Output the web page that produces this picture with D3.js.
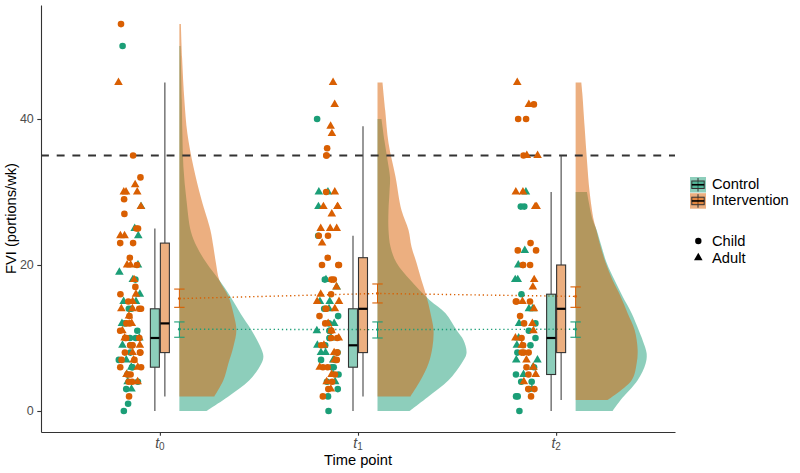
<!DOCTYPE html>
<html><head><meta charset="utf-8">
<script src="https://cdn.jsdelivr.net/npm/d3@7"></script>
<style>body{margin:0;background:#fff}svg{display:block;font-family:"Liberation Sans",Arial,Helvetica,sans-serif}</style>
</head><body><svg id="c" width="800" height="473"></svg>
<script>
// ---------------- data ----------------
const timePoints = ["t0", "t1", "t2"];
const timeSubs = ["0", "1", "2"];
const groups = ["Control", "Intervention"];
const ageGroups = ["Child", "Adult"];
const yTicks = [0, 20, 40];
const threshold = 35;

// raw FVI observations (portions/wk) per time point, group and age
const t0ControlChild = [50, 18, 14, 14, 12, 11, 10, 10, 9, 8, 7, 6, 6, 5, 4, 3, 1, 0];
const t0ControlAdult = [28, 25, 24, 20, 19, 18, 16, 15, 15, 12, 10, 9, 7, 6, 5, 4, 3];
const t0InterventionChild = [53, 35, 32, 29, 27, 25, 25, 23, 23, 21, 20, 17, 16, 15, 14, 14, 13, 12, 12, 11, 10, 10, 10, 9, 9, 9, 8, 8, 8, 7, 7, 6, 6, 5, 5, 4, 4, 2];
const t0InterventionAdult = [45, 31, 30, 30, 30, 28, 24, 24, 20, 20, 18, 16, 15, 14, 14, 13, 12, 11, 10, 9, 8, 7, 6, 5, 4];
const t1ControlChild = [40, 24, 18, 14, 13, 12, 11, 11, 10, 10, 9, 8, 7, 7, 6, 6, 5, 4, 3, 2, 0];
const t1ControlAdult = [30, 30, 28, 18, 17, 15, 15, 14, 12, 11, 10, 9, 8, 8, 7, 5, 4];
const t1InterventionChild = [36, 35, 35, 30, 24, 24, 21, 20, 20, 20, 18, 18, 16, 14, 14, 13, 12, 11, 10, 10, 9, 8, 8, 7, 6, 6, 5, 4, 3, 2];
const t1InterventionAdult = [45, 42, 39, 38, 30, 28, 28, 28, 27, 25, 25, 25, 23, 17, 16, 15, 15, 14, 12, 11, 10, 9, 8, 7, 6, 5, 4, 3];
const t2ControlChild = [28, 28, 16, 12, 11, 10, 9, 8, 6, 5, 4, 4, 3, 2, 2, 0];
const t2ControlAdult = [30, 22, 20, 18, 18, 14, 14, 12, 10, 9, 7, 7, 6, 5, 3];
const t2InterventionChild = [42, 40, 40, 35, 23, 22, 22, 20, 20, 20, 15, 15, 15, 13, 12, 10, 9, 8, 8, 8, 6, 5, 3, 3, 2];
const t2InterventionAdult = [45, 42, 35, 35, 30, 30, 28, 28, 18, 17, 15, 14, 12, 11, 10, 9, 7, 6, 5, 4];

// boxplot statistics per time point
const controlQ1 = [6, 6, 5];
const controlMedian = [10, 9, 10];
const controlQ3 = [14, 14, 16];
const controlWhiskerLow = [0, 0, 0];
const controlWhiskerHigh = [25, 24, 30];
const interventionQ1 = [8, 8, 8];
const interventionMedian = [12, 14, 14];
const interventionQ3 = [23, 21, 20];
const interventionWhiskerLow = [2, 2, 1.5];
const interventionWhiskerHigh = [45, 39, 35];

// mean and 95% CI per time point
const controlMean = [11.2, 11.15, 11.2];
const controlCILow = [10.1, 10.0, 10.1];
const controlCIHigh = [12.2, 12.2, 12.2];
const interventionMean = [15.4, 16.1, 15.7];
const interventionCILow = [14.2, 14.8, 14.2];
const interventionCIHigh = [16.7, 17.4, 17.0];

// density profiles [value, relative density]
const t0ControlDensity = [[0,0.27],[2,0.49],[4.2,0.70],[6.5,0.82],[7.5,0.84],[8.8,0.81],[11.1,0.72],[13.4,0.61],[15.7,0.51],[17.9,0.40],[20.3,0.27],[22.5,0.175],[24.6,0.115],[29,0.07],[33.5,0.04],[38,0.03],[42.6,0.024],[50,0.012]];
const t0InterventionDensity = [[2,0.35],[4.2,0.44],[6.5,0.49],[8.8,0.54],[11.1,0.57],[13.4,0.54],[15.7,0.49],[17.9,0.40],[20.3,0.365],[22.5,0.34],[24.8,0.31],[29,0.22],[33.5,0.14],[38,0.08],[42.6,0.05],[48.4,0.027],[53,0.015]];
const t1ControlDensity = [[0,0.32],[2,0.51],[4.2,0.71],[6.5,0.84],[7.9,0.89],[9.7,0.86],[11.1,0.79],[13.4,0.68],[15.2,0.52],[17.9,0.33],[20.3,0.19],[22.5,0.13],[24.8,0.11],[27.5,0.11],[30,0.12],[32,0.125],[34.4,0.10],[37,0.07],[40,0.04]];
const t1InterventionDensity = [[2,0.33],[4.2,0.43],[6.5,0.51],[8.8,0.55],[11.1,0.56],[13.4,0.53],[15.7,0.49],[17.9,0.44],[20.3,0.39],[22.5,0.34],[24.8,0.31],[27.5,0.24],[32.1,0.18],[36.7,0.11],[41.2,0.077],[45,0.05]];
const t2ControlDensity = [[0,0.37],[1.5,0.45],[4.2,0.62],[6.5,0.70],[7.9,0.71],[9.7,0.67],[11.1,0.63],[13.4,0.56],[15.7,0.47],[17.9,0.39],[20.3,0.31],[22.5,0.26],[24.8,0.21],[26.2,0.17],[30,0.113]];
const t2InterventionDensity = [[1.5,0.32],[4.2,0.56],[6.5,0.61],[8.4,0.62],[11.1,0.59],[13.4,0.52],[15.7,0.45],[17.9,0.37],[20.3,0.30],[22.5,0.25],[24.8,0.207],[26.2,0.18],[30,0.14],[34.4,0.113],[38.9,0.09],[43.5,0.067],[45,0.057]];

// ---------------- assemble ----------------
const raw = [
  [t0ControlChild, t0ControlAdult, t0InterventionChild, t0InterventionAdult],
  [t1ControlChild, t1ControlAdult, t1InterventionChild, t1InterventionAdult],
  [t2ControlChild, t2ControlAdult, t2InterventionChild, t2InterventionAdult]
];
const densities = [
  [t0ControlDensity, t0InterventionDensity],
  [t1ControlDensity, t1InterventionDensity],
  [t2ControlDensity, t2InterventionDensity]
];
const box = [
  {q1: controlQ1, med: controlMedian, q3: controlQ3, lo: controlWhiskerLow, hi: controlWhiskerHigh},
  {q1: interventionQ1, med: interventionMedian, q3: interventionQ3, lo: interventionWhiskerLow, hi: interventionWhiskerHigh}
];
const means = [
  {m: controlMean, lo: controlCILow, hi: controlCIHigh},
  {m: interventionMean, lo: interventionCILow, hi: interventionCIHigh}
];

// ---------------- styles / layout ----------------
const colors = {Control: "#1B9E77", Intervention: "#D95F02"};
const svg = d3.select("#c");
const x = d3.scalePoint().domain(timePoints).range([41, 675]).padding(0.6);
const y = d3.scaleLinear().domain([-2.877, 55.616]).range([432, 5]);
const wScale = d3.scaleLinear().domain([0, 1]).range([0, 100]);
const pointOffset = -30, jitterWidth = 23;
const boxOffset = 5, boxWidth = 9;
const cloudOffset = 19.5;

function hash(i, k) { const s = Math.sin(i * 12.9898 + k * 78.233) * 43758.5453; return s - Math.floor(s); }

// violins (half densities)
const gViol = svg.append("g");
timePoints.forEach((t, i) => {
  const x0 = x(t) + cloudOffset;
  groups.forEach((g, gi) => {
    const area = d3.area().curve(d3.curveCatmullRom)
      .y(d => y(d[0])).x0(x0).x1(d => x0 + wScale(d[1]));
    gViol.append("path").datum(densities[i][gi]).attr("d", area)
      .attr("fill", colors[g]).attr("fill-opacity", 0.5);
  });
});

// threshold dashed line
svg.append("line").attr("x1", 41).attr("x2", 675).attr("y1", y(threshold)).attr("y2", y(threshold))
  .attr("stroke", "#333").attr("stroke-width", 2).attr("stroke-dasharray", "7.9,7.8");

// dotted mean lines
groups.forEach((g, gi) => {
  const line = d3.line().x((d, i) => x(timePoints[i]) + cloudOffset).y(d => y(d));
  svg.append("path").datum(means[gi].m).attr("d", line).attr("fill", "none")
    .attr("stroke", colors[g]).attr("stroke-width", 1.4).attr("stroke-dasharray", "1.3,2.8");
});

// jittered points
const gPts = svg.append("g");
const tri = d3.symbol().type(d3.symbolTriangle).size(32);
timePoints.forEach((t, i) => {
  let idx = 0;
  raw[i].forEach((arr, k) => {
    const g = groups[k >> 1];
    const age = ageGroups[k & 1];
    arr.forEach(v => {
      const px = x(t) + pointOffset + (hash(idx, i + 1) - 0.5) * jitterWidth;
      const py = y(v);
      idx++;
      if (age === "Child") {
        gPts.append("circle").attr("cx", px).attr("cy", py).attr("r", 3.3).attr("fill", colors[g]);
      } else {
        gPts.append("path").attr("d", tri).attr("transform", `translate(${px},${py})`).attr("fill", colors[g]);
      }
    });
  });
});

// boxplots
const gBox = svg.append("g");
timePoints.forEach((t, i) => {
  groups.forEach((g, gi) => {
    const cx = x(t) + (gi === 0 ? -boxOffset : boxOffset);
    const b = box[gi];
    gBox.append("line").attr("x1", cx).attr("x2", cx).attr("y1", y(b.hi[i])).attr("y2", y(b.q3[i]))
      .attr("stroke", "#444").attr("stroke-width", 1.1);
    gBox.append("line").attr("x1", cx).attr("x2", cx).attr("y1", y(b.q1[i])).attr("y2", y(b.lo[i]))
      .attr("stroke", "#444").attr("stroke-width", 1.1);
    gBox.append("rect").attr("x", cx - boxWidth / 2).attr("width", boxWidth)
      .attr("y", y(b.q3[i])).attr("height", y(b.q1[i]) - y(b.q3[i]))
      .attr("fill", colors[g]).attr("fill-opacity", 0.5).attr("stroke", "#333").attr("stroke-width", 1.1);
    gBox.append("line").attr("x1", cx - boxWidth / 2).attr("x2", cx + boxWidth / 2)
      .attr("y1", y(b.med[i])).attr("y2", y(b.med[i])).attr("stroke", "#000").attr("stroke-width", 2.2);
  });
});

// error bars
const gErr = svg.append("g");
timePoints.forEach((t, i) => {
  const ex = x(t) + cloudOffset;
  groups.forEach((g, gi) => {
    const m = means[gi];
    const c = colors[g];
    gErr.append("line").attr("x1", ex).attr("x2", ex).attr("y1", y(m.lo[i])).attr("y2", y(m.hi[i])).attr("stroke", c).attr("stroke-width", 1);
    [m.lo[i], m.hi[i]].forEach(v => gErr.append("line").attr("x1", ex - 5.2).attr("x2", ex + 5.2)
      .attr("y1", y(v)).attr("y2", y(v)).attr("stroke", c).attr("stroke-width", 1.1));
    gErr.append("circle").attr("cx", ex).attr("cy", y(m.m[i])).attr("r", 1.4).attr("fill", c);
  });
});

// axes
const axisColor = "#333";
const gy = svg.append("g").attr("transform", "translate(41,0)")
  .call(d3.axisLeft(y).tickValues(yTicks).tickSize(3.7).tickSizeOuter(0).tickPadding(3.5));
const gx = svg.append("g").attr("transform", "translate(0,432)")
  .call(d3.axisBottom(x).tickSize(3.7).tickSizeOuter(0).tickFormat(""));
[gx, gy].forEach(g => {
  g.select(".domain").attr("stroke", axisColor).attr("stroke-width", 1.1);
  g.selectAll(".tick line").attr("stroke", axisColor).attr("stroke-width", 1.1);
});
gy.selectAll(".tick text").attr("fill", "#4D4D4D").attr("font-size", 12.5)
  .attr("font-family", "'Liberation Sans',Arial,sans-serif");
timePoints.forEach((t, i) => {
  const tx = svg.append("text").attr("x", x(t)).attr("y", 447.5).attr("text-anchor", "middle")
    .attr("fill", "#4D4D4D").attr("font-size", 14);
  tx.append("tspan").attr("font-style", "italic").text("t");
  tx.append("tspan").attr("font-size", 10).attr("dy", 2.3).text(timeSubs[i]);
});
svg.append("text").attr("x", x("t1")).attr("y", 464.5).attr("text-anchor", "middle")
  .attr("font-size", 14.7).attr("fill", "#000").text("Time point");
svg.append("text").attr("transform", `translate(16,${(5 + 432) / 2}) rotate(-90)`).attr("text-anchor", "middle")
  .attr("font-size", 14.7).attr("fill", "#000").text("FVI (portions/wk)");

// legend
const lg = svg.append("g");
groups.forEach((g, gi) => {
  const ky = 177 + gi * 16.2;
  lg.append("rect").attr("x", 690).attr("y", ky).attr("width", 16).attr("height", 15.5)
    .attr("fill", colors[g]).attr("fill-opacity", 0.5);
  lg.append("line").attr("x1", 698).attr("x2", 698).attr("y1", ky + 1).attr("y2", ky + 14.5).attr("stroke", "#333").attr("stroke-width", 1);
  lg.append("rect").attr("x", 691.8).attr("y", ky + 4).attr("width", 12.4).attr("height", 7.5)
    .attr("fill", colors[g]).attr("fill-opacity", 0.5).attr("stroke", "#333").attr("stroke-width", 1);
  lg.append("line").attr("x1", 691.8).attr("x2", 704.2).attr("y1", ky + 7.75).attr("y2", ky + 7.75).attr("stroke", "#000").attr("stroke-width", 1.6);
  lg.append("text").attr("x", 712).attr("y", ky + 12.2).attr("font-size", 14.7).attr("fill", "#000").text(g);
});
ageGroups.forEach((a, ai) => {
  const cy = 241 + ai * 16.7;
  if (ai === 0) lg.append("circle").attr("cx", 698.3).attr("cy", cy).attr("r", 3.2).attr("fill", "#000");
  else lg.append("path").attr("d", tri).attr("transform", `translate(698.3,${cy})`).attr("fill", "#000");
  lg.append("text").attr("x", 712).attr("y", cy + 5).attr("font-size", 14.7).attr("fill", "#000").text(a);
});
</script></body></html>
